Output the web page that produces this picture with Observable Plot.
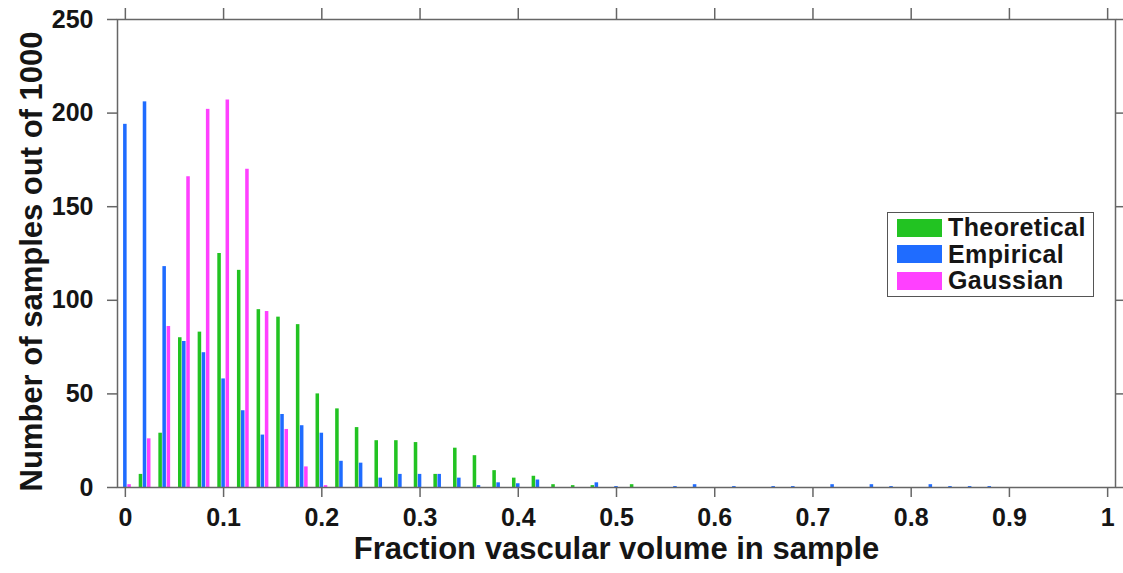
<!DOCTYPE html>
<html>
<head>
<meta charset="utf-8">
<script src="https://cdn.jsdelivr.net/npm/d3@7"></script>
<script src="https://cdn.jsdelivr.net/npm/@observablehq/plot@0.6"></script>
<style>
  html, body { margin: 0; padding: 0; background: #fff; }
  #wrap { position: relative; width: 1123px; height: 573px; overflow: hidden; }
  #legend { position: absolute; left: 887px; top: 212px; width: 207px; height: 85px;
    border: 1.5px solid #555; background: #fff; box-sizing: border-box;
    font-family: "Liberation Sans", Arial, sans-serif; font-weight: bold; font-size: 25px; color: #151515; }
  .row { position: absolute; left: 9px; height: 18px; display: flex; align-items: center; }
  .sw { width: 45px; height: 18px; margin-right: 6px; flex: none; }
  .row span { letter-spacing: 0.4px; white-space: nowrap; }
</style>
</head>
<body>
<div id="wrap"></div>
<script>
const bins = [0,0.02,0.04,0.06,0.08,0.10,0.12,0.14,0.16,0.18,0.20,0.22,0.24,0.26,0.28,0.30,0.32,0.34,0.36,0.38,0.40,0.42,0.44,0.46,0.48,0.50,0.52,0.54,0.56,0.58,0.60,0.62,0.64,0.66,0.68,0.70,0.72,0.74,0.76,0.78,0.80,0.82,0.84,0.86,0.88];
const theoretical = [0,7,29,80,83,125,116,95,91,87,50,42,32,25,25,24,7,21,17,9,5,6,1.5,1,1,0,1.5,0,0,0,0,0,0,0,0,0,0,0,0,0,0,0,0,0,0];
const empirical = [194,206,118,78,72,58,41,28,39,33,29,14,13,5,7,7,7,5,1,2.5,2,4,0,0,2.5,0.5,0,0,0.5,1.5,0,0.5,0,0.5,0.5,0,1.5,0,1.5,0.5,0,1.5,0.5,0.5,0.5];
const gaussian = [1.5,26,86,166,202,207,170,94,31,11,1,0,0,0,0,0,0,0,0,0,0,0,0,0,0,0,0,0,0,0,0,0,0,0,0,0,0,0,0,0,0,0,0,0,0];
const seriesNames = ["Theoretical", "Empirical", "Gaussian"];
const seriesColors = ["#22c322", "#1f6cff", "#ff40ff"];
const xTicks = [0,0.1,0.2,0.3,0.4,0.5,0.6,0.7,0.8,0.9,1];
const yTicks = [0,50,100,150,200,250];
const xTitle = "Fraction vascular volume in sample";
const yTitle = "Number of samples out of 1000";

const seriesValues = [theoretical, empirical, gaussian];
const rows = [];
seriesValues.forEach((vals, k) => bins.forEach((b, i) => rows.push({bin: b, value: vals[i], series: seriesNames[k], k})));

const offsets = [-0.0041, 0, 0.0043];
const bw = 0.0036;

const font = "Liberation Sans, Arial, sans-serif";
const chart = Plot.plot({
  width: 1123, height: 573,
  marginLeft: 117, marginRight: 8, marginTop: 19, marginBottom: 86,
  x: {domain: [-0.008, 1.008]},
  y: {domain: [0, 250]},
  color: {domain: seriesNames, range: seriesColors},
  style: {fontFamily: font, fontWeight: "bold", background: "#fff", color: "#151515"},
  marks: [
    Plot.rectY(rows, {
      x1: d => d.bin + offsets[d.k] - bw / 2,
      x2: d => d.bin + offsets[d.k] + bw / 2,
      y1: 0, y2: "value", fill: "series"
    }),
    Plot.frame({stroke: "#666", strokeWidth: 1.5}),
    Plot.axisX({ticks: xTicks, tickSize: 10, tickPadding: 11, fontSize: 25, stroke: "#666", strokeWidth: 1.5,
      tickFormat: d => String(+d.toFixed(1)), label: null}),
    Plot.axisX({anchor: "top", ticks: xTicks, tickSize: 12, tickFormat: () => "", stroke: "#666", strokeWidth: 1.5, label: null}),
    Plot.axisY({ticks: yTicks, tickSize: 10, tickPadding: 14, fontSize: 25, stroke: "#666", strokeWidth: 1.5, label: null}),
    Plot.axisY({anchor: "right", ticks: yTicks, tickSize: 10, tickFormat: () => "", stroke: "#666", strokeWidth: 1.5, label: null}),
    Plot.text([xTitle], {text: d => d, frameAnchor: "bottom", textAnchor: "middle", dy: 71, fontSize: 31, fontWeight: "bold", fill: "#151515"}),
    Plot.text([yTitle], {text: d => d, frameAnchor: "left", textAnchor: "middle", dx: -85, dy: 8, rotate: -90, fontSize: 31, fontWeight: "bold", fill: "#151515"})
  ]
});
const wrap = document.getElementById("wrap");
wrap.appendChild(chart);

const legend = document.createElement("div");
legend.id = "legend";
seriesNames.forEach((name, k) => {
  const row = document.createElement("div");
  row.className = "row";
  row.style.top = (5.5 + k * 26.5) + "px";
  const sw = document.createElement("div");
  sw.className = "sw";
  sw.style.background = seriesColors[k];
  const t = document.createElement("span");
  t.textContent = name;
  row.appendChild(sw); row.appendChild(t);
  legend.appendChild(row);
});
wrap.appendChild(legend);
</script>
</body>
</html>
